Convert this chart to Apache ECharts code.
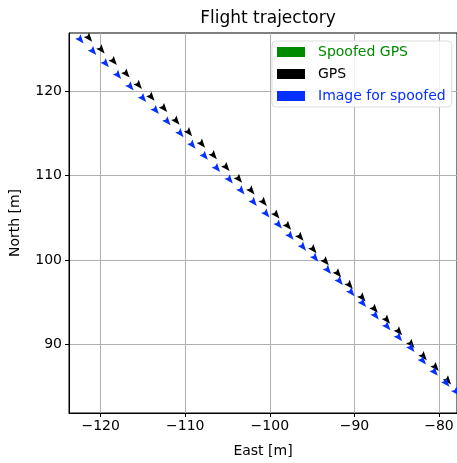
<!DOCTYPE html>
<html><head><meta charset="utf-8">
<script src="https://cdn.jsdelivr.net/npm/echarts@6/dist/echarts.min.js"></script>
<style>html,body{margin:0;padding:0;background:#fff}#c{width:457px;height:463px}</style>
</head><body><div id="c"></div>
<script>
const gpsEast = [-121.35,-119.88,-118.43,-116.93,-115.47,-113.97,-112.48,-111.02,-109.53,-108.00,-106.61,-105.11,-103.62,-102.15,-100.70,-99.20,-97.83,-96.36,-94.82,-93.37,-91.91,-90.53,-89.03,-87.58,-86.12,-84.70,-83.24,-81.79,-80.37,-78.91];
const gpsNorth = [126.30,124.92,123.54,122.05,120.71,119.29,117.96,116.46,115.09,113.74,112.37,110.96,109.57,108.19,106.82,105.32,103.99,102.69,101.22,99.78,98.36,96.98,95.49,94.14,92.85,91.48,89.98,88.52,87.23,85.64];
const imgEast = [-122.36,-120.87,-119.37,-117.92,-116.45,-114.96,-113.46,-112.08,-110.54,-109.13,-107.67,-106.22,-104.72,-103.33,-101.88,-100.38,-98.92,-97.54,-96.05,-94.61,-93.10,-91.71,-90.33,-88.96,-87.46,-86.08,-84.70,-83.24,-81.87,-80.48,-79.10,-77.92];
const imgNorth = [126.10,124.72,123.27,121.89,120.52,119.14,117.72,116.39,114.97,113.62,112.29,110.84,109.49,108.19,106.82,105.44,104.14,102.81,101.51,100.21,98.75,97.45,96.12,94.82,93.36,92.07,90.77,89.50,88.00,86.67,85.37,84.31];
const spoofEast = [];
const spoofNorth = [];
const xTicks = [-120,-110,-100,-90,-80];
const yTicks = [90,100,110,120];
const seriesNames = ['Spoofed GPS','GPS','Image for spoofed'];
const seriesColors = ['#008a00','#000000','#0530ff'];

const zip = (a,b) => a.map((v,i)=>[v,b[i]]);
const fmt = v => v < 0 ? '\u2212' + Math.abs(v) : String(v);
const font = 'DejaVu Sans';
const chart = echarts.init(document.getElementById('c'));
const axisCommon = {
  axisLine:{show:true,onZero:false,lineStyle:{color:'#000',width:1}},
  axisTick:{show:true,length:4,lineStyle:{color:'#000'}},
  splitLine:{show:true,lineStyle:{color:'#b0b0b0',width:1}},
  axisLabel:{color:'#000',fontFamily:font,fontSize:14,formatter:fmt},
  nameTextStyle:{color:'#000',fontFamily:font,fontSize:14},
  nameLocation:'middle'
};
const arrowSym = 'path://M5,0 L10,12 L5,10 L0,12 Z';
const mk = (i, data) => ({name:seriesNames[i],type:'scatter',data:data,symbol:arrowSym,symbolSize:[7,9],symbolRotate:-140,
  itemStyle:{color:seriesColors[i],opacity:1}});
chart.setOption({
  animation:false,
  title:{text:'Flight trajectory',left:263,textAlign:'center',top:5,textStyle:{fontFamily:font,fontSize:17,fontWeight:'normal',color:'#000'}},
  grid:{left:69,right:0,top:33,bottom:48,show:true,borderColor:'#000',borderWidth:1},
  xAxis:Object.assign({},axisCommon,{type:'value',min:-123.75,max:-77.87,name:'East [m]',nameGap:31,
    axisTick:Object.assign({},axisCommon.axisTick,{customValues:xTicks}),
    axisLabel:Object.assign({},axisCommon.axisLabel,{customValues:xTicks,margin:6}),
    splitLine:Object.assign({},axisCommon.splitLine,{customValues:xTicks})}),
  yAxis:Object.assign({},axisCommon,{type:'value',min:81.85,max:126.93,name:'North [m]',nameGap:47,
    axisTick:Object.assign({},axisCommon.axisTick,{customValues:yTicks}),
    axisLabel:Object.assign({},axisCommon.axisLabel,{customValues:yTicks,margin:7}),
    splitLine:Object.assign({},axisCommon.splitLine,{customValues:yTicks})}),
  legend:{orient:'vertical',left:272,top:41,icon:'rect',itemWidth:28,itemHeight:10,itemGap:8,
    backgroundColor:'rgba(255,255,255,0.85)',borderColor:'#dddddd',borderWidth:1,borderRadius:4,padding:[4,6,4,5],
    textStyle:{fontFamily:font,fontSize:14,padding:[0,0,0,8]},
    data:seriesNames.map((n,i)=>({name:n,textStyle:{color:seriesColors[i],padding:[0,0,0,8]}}))},
  series:[mk(0,zip(spoofEast,spoofNorth)),mk(1,zip(gpsEast,gpsNorth)),mk(2,zip(imgEast,imgNorth))]
});
</script></body></html>
